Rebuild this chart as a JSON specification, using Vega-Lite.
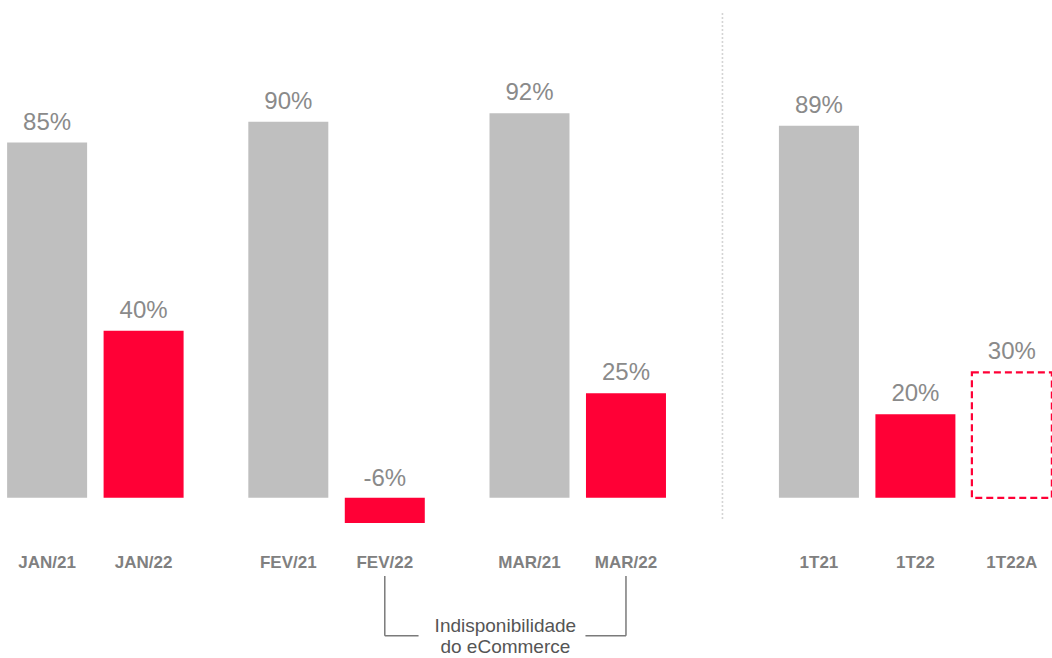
{
  "$schema": "https://vega.github.io/schema/vega-lite/v6.json",
  "autosize": {"type": "none"},
  "padding": {"left": 23, "top": 13, "right": 16, "bottom": 110},
  "width": 1013,
  "height": 535,
  "background": "white",
  "config": {"view": {"stroke": null}, "font": "Liberation Sans"},
  "data": {
    "values": [
      {"cat": "JAN/21", "value": 85, "label": "85%", "kind": "21"},
      {"cat": "JAN/22", "value": 40, "label": "40%", "kind": "22"},
      {"cat": "FEV/21", "value": 90, "label": "90%", "kind": "21"},
      {"cat": "FEV/22", "value": -6, "label": "-6%", "kind": "22"},
      {"cat": "MAR/21", "value": 92, "label": "92%", "kind": "21"},
      {"cat": "MAR/22", "value": 25, "label": "25%", "kind": "22"},
      {"cat": "1T21", "value": 89, "label": "89%", "kind": "21"},
      {"cat": "1T22", "value": 20, "label": "20%", "kind": "22"},
      {"cat": "1T22A", "value": 30, "label": "30%", "kind": "A"}
    ]
  },
  "encoding": {
    "x": {
      "field": "cat",
      "type": "nominal",
      "sort": null,
      "scale": {
        "domain": ["JAN/21", "_1", "JAN/22", "_2", "_3", "FEV/21", "_4", "FEV/22", "_5", "_6", "MAR/21", "_7", "MAR/22", "_8", "_9", "_10", "1T21", "_11", "1T22", "_12", "1T22A"],
        "paddingInner": 0,
        "paddingOuter": 0
      },
      "axis": {
        "title": null,
        "orient": "bottom",
        "domain": false,
        "ticks": false,
        "tickSize": 0,
        "grid": false,
        "labelAngle": 0,
        "labelOverlap": false,
        "labelPadding": 6,
        "labelFontSize": 17,
        "labelFontWeight": "bold",
        "labelColor": "#808080",
        "labelFont": "Liberation Sans",
        "labelExpr": "indexof(datum.label, '_') == 0 ? '' : datum.label"
      }
    }
  },
  "layer": [
    {
      "transform": [{"filter": "datum.kind != 'A'"}],
      "mark": {"type": "bar", "width": 80},
      "encoding": {
        "y": {"field": "value", "type": "quantitative", "scale": {"domain": [-12, 116], "nice": false, "zero": false}, "axis": null},
        "color": {"field": "kind", "type": "nominal", "scale": {"domain": ["21", "22"], "range": ["#bfbfbf", "#ff0036"]}, "legend": null}
      }
    },
    {
      "transform": [{"filter": "datum.kind == 'A'"}],
      "mark": {"type": "bar", "width": 80, "fill": "white", "stroke": "#ff0036", "strokeWidth": 2.2, "strokeDash": [7, 4]},
      "encoding": {
        "y": {"field": "value", "type": "quantitative"}
      }
    },
    {
      "transform": [{"filter": "datum.value >= 0"}],
      "mark": {"type": "text", "baseline": "alphabetic", "align": "center", "dy": -13, "fontSize": 24, "color": "#8a8a8a"},
      "encoding": {
        "y": {"field": "value", "type": "quantitative"},
        "text": {"field": "label"}
      }
    },
    {
      "transform": [{"filter": "datum.value < 0"}],
      "mark": {"type": "text", "baseline": "alphabetic", "align": "center", "dy": -12, "fontSize": 24, "color": "#8a8a8a"},
      "encoding": {
        "y": {"datum": 0, "type": "quantitative"},
        "text": {"field": "label"}
      }
    },
    {
      "data": {"values": [{}]},
      "mark": {"type": "rule", "stroke": "#d4d4d4", "strokeWidth": 1.6, "strokeDash": [2, 2]},
      "encoding": {
        "x": {"datum": "_9", "type": "nominal"},
        "y": {"datum": 116, "type": "quantitative"},
        "y2": {"datum": -5.5}
      }
    },
    {
      "data": {"values": [{"c": "FEV/22"}, {"c": "MAR/22"}]},
      "mark": {"type": "rule", "stroke": "#7a7a7a", "strokeWidth": 1.5},
      "encoding": {
        "x": {"field": "c", "type": "nominal"},
        "y": {"datum": -18.7, "type": "quantitative"},
        "y2": {"datum": -33}
      }
    },
    {
      "data": {"values": [{}]},
      "mark": {"type": "rule", "stroke": "#7a7a7a", "strokeWidth": 1.5},
      "encoding": {
        "x": {"datum": "FEV/22", "type": "nominal"},
        "x2": {"datum": "_5", "bandPosition": 0.2},
        "y": {"datum": -33, "type": "quantitative"}
      }
    },
    {
      "data": {"values": [{}]},
      "mark": {"type": "rule", "stroke": "#7a7a7a", "strokeWidth": 1.5},
      "encoding": {
        "x": {"datum": "_7", "type": "nominal", "bandPosition": 0.66},
        "x2": {"datum": "MAR/22"},
        "y": {"datum": -33, "type": "quantitative"}
      }
    },
    {
      "data": {"values": [{}]},
      "mark": {"type": "text", "text": ["Indisponibilidade", "do eCommerce"], "baseline": "alphabetic", "align": "center", "fontSize": 19, "lineHeight": 21, "color": "#555555"},
      "encoding": {
        "x": {"datum": "_6", "type": "nominal", "bandPosition": 1},
        "y": {"datum": -32, "type": "quantitative"}
      }
    }
  ]
}
